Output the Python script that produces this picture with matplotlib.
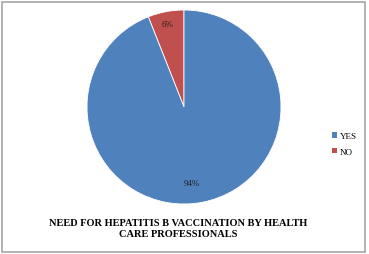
import matplotlib
matplotlib.use("Agg")
import matplotlib.pyplot as plt
from matplotlib.patches import Rectangle, Patch

labels = ["NO", "YES"]
values = [6, 94]
pct_labels = ["6%", "94%"]
colors = ["#C0504D", "#4F81BD"]
title = "NEED FOR HEPATITIS B VACCINATION BY HEALTH\nCARE PROFESSIONALS"

SERIF = ["Liberation Serif", "DejaVu Serif"]
plt.rcParams["font.family"] = SERIF

fig = plt.figure(figsize=(3.69, 2.55), dpi=100)
fig.patch.set_facecolor("white")
W, H = 369, 255

# border
fig.add_artist(Rectangle((1.5 / W, 2.5 / H), (365 - 1.5) / W, (252 - 2.5) / H,
                         transform=fig.transFigure, fill=False,
                         edgecolor="#A6A6A6", linewidth=1.2))

cx, cy, r = 184, 108, 97
ax = fig.add_axes([(cx - r) / W, 1 - (cy + r) / H, 2 * r / W, 2 * r / H])
wedges, texts = ax.pie(values, colors=colors, startangle=90, counterclock=True,
                       radius=1.0, wedgeprops=dict(linewidth=0.6, edgecolor="white"))
ax.set_xlim(-1, 1)
ax.set_ylim(-1, 1)
ax.set_aspect("equal")
ax.axis("off")

# data labels
ax.text(-0.17, 0.86, pct_labels[0], ha="center", va="center",
        family=SERIF, fontsize=6.5, color="#222222")
ax.text(0.08, -0.78, pct_labels[1], ha="center", va="center",
        family=SERIF, fontsize=6.5, color="#222222")

handles = [Patch(facecolor=colors[1], label=labels[1]),
           Patch(facecolor=colors[0], label=labels[0])]
fig.legend(handles=handles, loc="center left", bbox_to_anchor=(327 / W, 1 - 145 / H),
           frameon=False, prop=dict(family=SERIF, size=6.5),
           handlelength=0.6, handleheight=0.6, handletextpad=0.3, labelspacing=0.8,
           borderpad=0)

fig.text(178 / W, 1 - 229 / H, title, ha="center", va="center",
         family=SERIF, fontweight="bold", fontsize=7.5,
         linespacing=1.15)

fig.savefig("out.png", dpi=100)
